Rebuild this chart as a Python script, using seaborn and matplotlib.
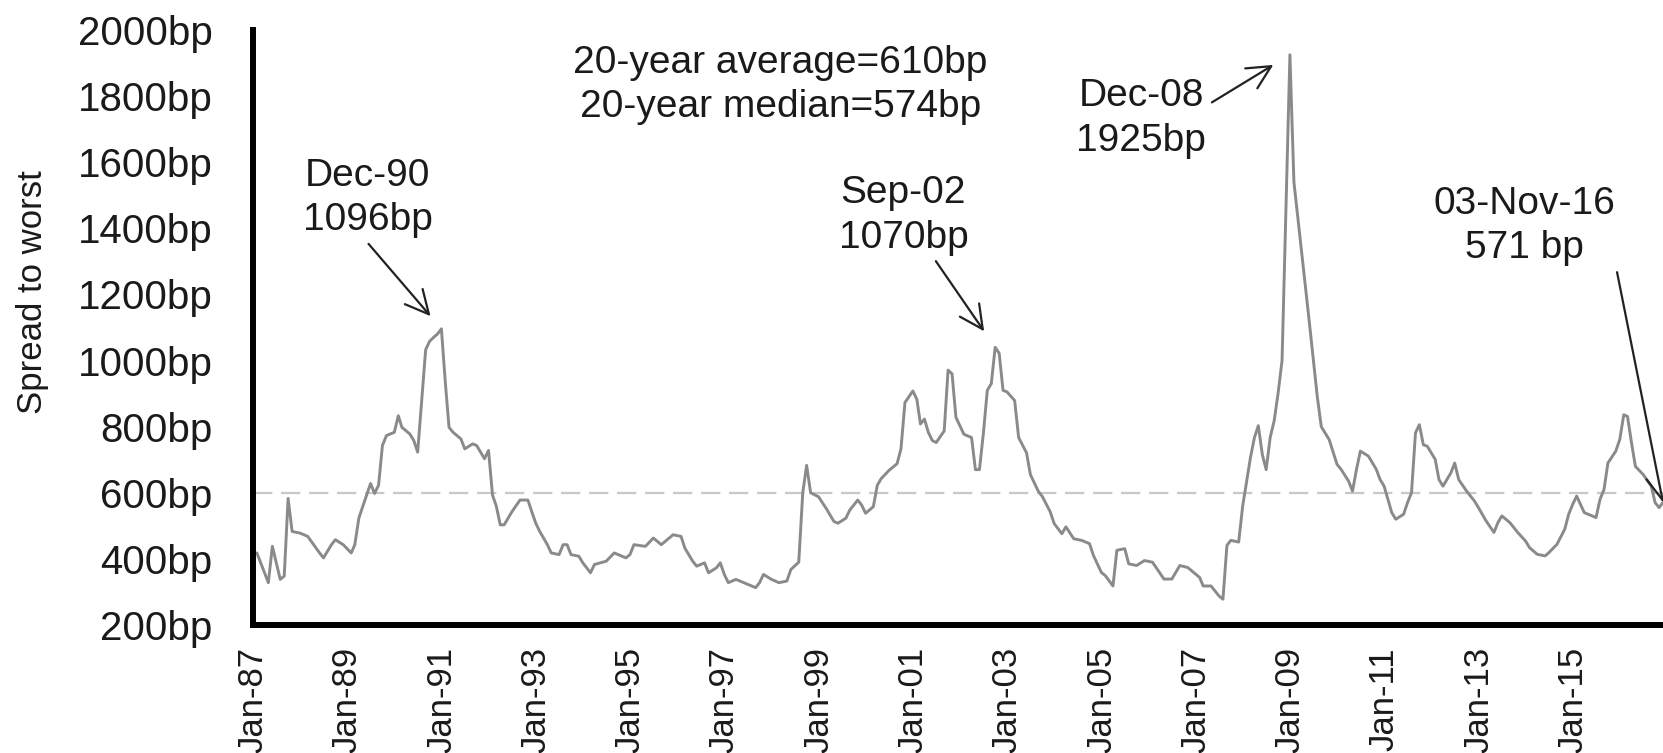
"""
High-yield spread to worst, Jan-87 to Nov-16, with the big peaks called out
"""
import pandas as pd
import matplotlib
matplotlib.use('Agg')
import matplotlib.pyplot as plt
import matplotlib.dates as mdates
import seaborn as sns

# monthly readings (month-end), only the turning points of the line
months = [
    '1987-01', '1987-04', '1987-05', '1987-07', '1987-08', '1987-09', '1987-10', '1987-12',
    '1988-02', '1988-05', '1988-06', '1988-08', '1988-09', '1988-11',
    '1989-01', '1989-02', '1989-03', '1989-04', '1989-06', '1989-07', '1989-08', '1989-09',
    '1989-10', '1989-12',
    '1990-01', '1990-02', '1990-04', '1990-05', '1990-06', '1990-07', '1990-08', '1990-09',
    '1990-10', '1990-11', '1990-12',
    '1991-01', '1991-02', '1991-03', '1991-05', '1991-06', '1991-08', '1991-09', '1991-11',
    '1991-12',
    '1992-01', '1992-02', '1992-03', '1992-04', '1992-06', '1992-08', '1992-10', '1992-11',
    '1992-12',
    '1993-01', '1993-03', '1993-04', '1993-06', '1993-07', '1993-08', '1993-09', '1993-11',
    '1993-12',
    '1994-02', '1994-03', '1994-06', '1994-08', '1994-11', '1994-12',
    '1995-01', '1995-04', '1995-06', '1995-08', '1995-09', '1995-11',
    '1996-01', '1996-02', '1996-04', '1996-05', '1996-07', '1996-08', '1996-10', '1996-11',
    '1996-12',
    '1997-01', '1997-03', '1997-05', '1997-08', '1997-09', '1997-10', '1997-12',
    '1998-02', '1998-04', '1998-05', '1998-07', '1998-08', '1998-09', '1998-10', '1998-12',
    '1999-02', '1999-04', '1999-05', '1999-07', '1999-08', '1999-10', '1999-11', '1999-12',
    '2000-02', '2000-03', '2000-04', '2000-06', '2000-08', '2000-09', '2000-10', '2000-12',
    '2001-01', '2001-02', '2001-03', '2001-04', '2001-05', '2001-06', '2001-08', '2001-09',
    '2001-10', '2001-11',
    '2002-01', '2002-03', '2002-04', '2002-05', '2002-06', '2002-07', '2002-08', '2002-09',
    '2002-10', '2002-11', '2002-12',
    '2003-02', '2003-03', '2003-05', '2003-06', '2003-08', '2003-09', '2003-11', '2003-12',
    '2004-02', '2004-03', '2004-05', '2004-07', '2004-09', '2004-10', '2004-12',
    '2005-01', '2005-03', '2005-04', '2005-06', '2005-07', '2005-09', '2005-11',
    '2006-01', '2006-04', '2006-06', '2006-08', '2006-10',
    '2007-01', '2007-02', '2007-04', '2007-06', '2007-07', '2007-08', '2007-09', '2007-11',
    '2007-12',
    '2008-02', '2008-03', '2008-04', '2008-05', '2008-06', '2008-07', '2008-08', '2008-09',
    '2008-10', '2008-11', '2008-12',
    '2009-01', '2009-05', '2009-07', '2009-08', '2009-10', '2009-12',
    '2010-01', '2010-03', '2010-04', '2010-05', '2010-06', '2010-08', '2010-10', '2010-11',
    '2010-12',
    '2011-02', '2011-03', '2011-05', '2011-06', '2011-07', '2011-08', '2011-09', '2011-10',
    '2011-11',
    '2012-01', '2012-02', '2012-03', '2012-05', '2012-06', '2012-07', '2012-09', '2012-11',
    '2012-12',
    '2013-02', '2013-04', '2013-05', '2013-06', '2013-08', '2013-10', '2013-12',
    '2014-01', '2014-03', '2014-05', '2014-06', '2014-08', '2014-10', '2014-11', '2014-12',
    '2015-01', '2015-03', '2015-05', '2015-06', '2015-07', '2015-08', '2015-09', '2015-11',
    '2015-12',
    '2016-01', '2016-02', '2016-03', '2016-04', '2016-06', '2016-08', '2016-09', '2016-10',
    '2016-11',
]
spread_bp = [
    418, 328, 438, 338, 348, 583, 483, 478,
    468, 418, 403, 443, 458, 443,
    418, 443, 523, 558, 628, 598, 623, 743,
    773, 783,
    833, 798, 778, 758, 723, 880, 1033, 1058,
    1070, 1080, 1096,
    930, 798, 783, 763, 733, 748, 743, 703,
    728,
    593, 560, 503, 503, 543, 578, 578, 543,
    508,
    483, 443, 418, 413, 443, 443, 413, 408,
    388,
    358, 383, 393, 418, 403, 413,
    443, 438, 463, 443, 453, 473,
    468, 433, 393, 378, 388, 358, 373, 388,
    353,
    328, 338, 328, 313, 328, 353, 338,
    328, 333, 368, 390, 600, 683, 600, 588,
    553, 513, 508, 523, 548, 578, 563, 538,
    558, 623, 643, 668, 688, 733, 873, 908,
    883, 808, 823, 783, 758, 752, 787, 971,
    960, 828,
    777, 767, 670, 670, 777, 910, 930, 1040,
    1022, 910, 905,
    879, 767, 721, 655, 604, 589, 543, 507,
    476, 497, 461, 456, 446, 410, 359,
    349, 318, 426, 431, 385, 380, 395,
    390, 339, 339, 380, 374,
    344, 318, 318, 288, 278, 441, 456, 451,
    560,
    706, 767, 803, 716, 670, 767, 818, 900,
    1000, 1450, 1925,
    1540, 1114, 891, 800, 761, 686,
    671, 635, 605, 671, 726, 711, 671, 640,
    620,
    540, 520, 535, 570, 600, 781, 806, 745,
    741,
    701, 640, 620, 660, 690, 640, 605, 575,
    555,
    515, 480, 510, 530, 510, 480, 454,
    434, 414, 409, 419, 444, 490, 535, 565,
    590, 540, 530, 525, 580, 610, 690, 726,
    761,
    836, 831, 751, 680, 655, 620, 570, 555,
    571,
]

ref_level_bp = 600
y_ticks = list(range(200, 2001, 200))
tick_years = list(range(1987, 2016, 2))
stats_text = '20-year average=610bp\n20-year median=574bp'

# label, month it points at, text offset (pt), arrow attach point on text, gap at the point (pt)
callouts = [
    ('Dec-90\n1096bp', '1990-12', (-53, 94), (0.47, 0.0), 12),
    ('Sep-02\n1070bp', '2002-09', (-66, 95), (0.72, 0.0), 14),
    ('Dec-08\n1925bp', '2008-12', (-107, -46), (1.0, 0.66), 14),
    ('03-Nov-16\n571 bp', '2016-11', (-100, 199), (1.0, 0.05), 0),
]

df = pd.DataFrame({'month': months, 'spread': spread_bp})
df['date'] = pd.to_datetime(df['month']) + pd.offsets.MonthEnd(0)

sns.set_style('white')
plt.rcParams['font.family'] = ['Liberation Sans', 'DejaVu Sans']

fig = plt.figure(figsize=(16.63, 7.53), dpi=100)
ax = fig.add_axes([253 / 1663, 128 / 753, 1410 / 1663, 595 / 753])

ax.axhline(ref_level_bp, color='#c8c8c8', lw=1.6, dashes=(8.7, 3.9), zorder=1)
sns.lineplot(data=df, x='date', y='spread', ax=ax, color='#8a8a8a', linewidth=2.1, zorder=2)

ax.set_xlim(pd.Timestamp('1987-01-01'), df['date'].iloc[-1])
ax.set_ylim(200, 2000)
ax.set_yticks(y_ticks)
ax.set_yticklabels([f'{v}bp' for v in y_ticks])
ax.set_xticks([pd.Timestamp(f'{y}-01-01') for y in tick_years])
ax.xaxis.set_major_formatter(mdates.DateFormatter('%b-%y'))

for s in ['top', 'right']:
    ax.spines[s].set_visible(False)
for s in ['left', 'bottom']:
    ax.spines[s].set_linewidth(4.3)
    ax.spines[s].set_color('black')
    ax.spines[s].set_zorder(3)

ax.tick_params(axis='y', length=14, width=2, color='#d4d4d4', pad=15, labelsize=29, labelcolor='#1a1a1a')
ax.tick_params(axis='x', length=9, width=2, color='#d4d4d4', pad=7, labelsize=25, labelcolor='#1a1a1a',
               labelrotation=90)
ax.set_xlabel('')
ax.set_ylabel('Spread to worst', fontsize=25, color='#1a1a1a')
ax.yaxis.set_label_coords(-0.145, 0.559)

ax.text(0.374, 0.9076, stats_text, transform=ax.transAxes, ha='center', va='center',
        fontsize=28, color='#1a1a1a', linespacing=1.3)

lookup = df.set_index('month')
for label, month, offset, relpos, gap in callouts:
    row = lookup.loc[month]
    ax.annotate(label, xy=(row['date'], row['spread']), xytext=offset, textcoords='offset points',
                ha='center', va='center', fontsize=28, color='#1a1a1a', linespacing=1.3,
                annotation_clip=False,
                arrowprops=dict(arrowstyle='->,head_length=0.6,head_width=0.3', color='#222222', lw=1.6,
                                relpos=relpos, shrinkA=2, shrinkB=gap))

fig.savefig('out.png', dpi=100)
plt.close(fig)
